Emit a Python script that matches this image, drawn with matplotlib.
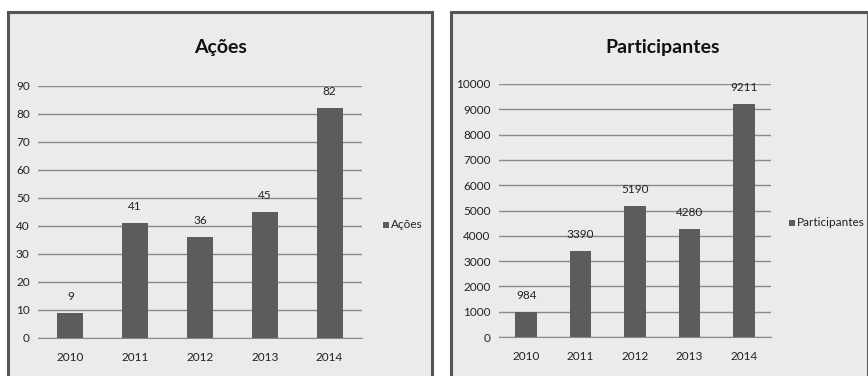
import matplotlib
matplotlib.use("Agg")
import matplotlib.pyplot as plt
from matplotlib.patches import Rectangle

years = ["2010", "2011", "2012", "2013", "2014"]
acoes = [9, 41, 36, 45, 82]
participantes = [984, 3390, 5190, 4280, 9211]

plt.rcParams['font.family'] = ['Lato', 'DejaVu Sans']

W, H = 868, 376
fig = plt.figure(figsize=(W / 100, H / 100), dpi=100)
fig.patch.set_facecolor('white')

BG = '#ebebeb'
BAR = '#5c5c5c'
GRID = '#8a8a8a'
TXT = '#222222'

def px(x0, y0, w, h):
    return [x0 / W, (H - y0 - h) / H, w / W, h / H]

# panel frames
for (x0, x1) in [(8, 432), (451, 868)]:
    fig.patches.append(Rectangle((x0 / W, -0.05), (x1 - x0) / W, (H - 12) / H + 0.05,
                                 transform=fig.transFigure, facecolor=BG,
                                 edgecolor='#555555', linewidth=2.2, zorder=-5))

def panel(rect, values, ylim, step, title, title_x, legend_x, legend_y):
    ax = fig.add_axes(px(*rect))
    ax.set_zorder(2)
    ax.set_facecolor('none')
    x = range(len(years))
    bars = ax.bar(x, values, width=0.4, color=BAR, zorder=3)
    ax.set_xlim(-0.5, len(years) - 0.5)
    ax.set_ylim(0, ylim)
    ax.set_yticks(range(0, ylim + 1, step))
    ax.set_xticks(list(x))
    ax.set_xticklabels(years)
    ax.yaxis.grid(True, color=GRID, linewidth=1.0, zorder=0)
    for s in ['top', 'right', 'left']:
        ax.spines[s].set_visible(False)
    ax.spines['bottom'].set_color(GRID)
    ax.tick_params(axis='both', length=0, labelsize=8.5, colors=TXT, pad=6)
    ax.tick_params(axis='x', pad=10)
    for b, v in zip(bars, values):
        ax.annotate(str(v), (b.get_x() + b.get_width() / 2, v), xytext=(0, 8),
                    textcoords='offset points', ha='center', va='bottom',
                    fontsize=8.5, color=TXT)
    fig.text(title_x / W, (H - 48) / H, title, ha='center', va='center',
             fontsize=14, fontweight='bold', color='#111111', zorder=5)
    fig.patches.append(Rectangle((legend_x / W, (H - legend_y - 3) / H), 6 / W, 6 / H,
                                 transform=fig.transFigure, facecolor=BAR,
                                 edgecolor='none', zorder=5))
    fig.text((legend_x + 8) / W, (H - legend_y) / H, title, ha='left', va='center',
             fontsize=8.5, color=TXT, zorder=5)

panel((38, 86, 324, 252), acoes, 90, 10, 'Ações', 221, 383, 225)
panel((499, 84, 272, 253), participantes, 10000, 1000, 'Participantes', 663, 789, 223)

fig.savefig('out.png', dpi=100, facecolor='white')
